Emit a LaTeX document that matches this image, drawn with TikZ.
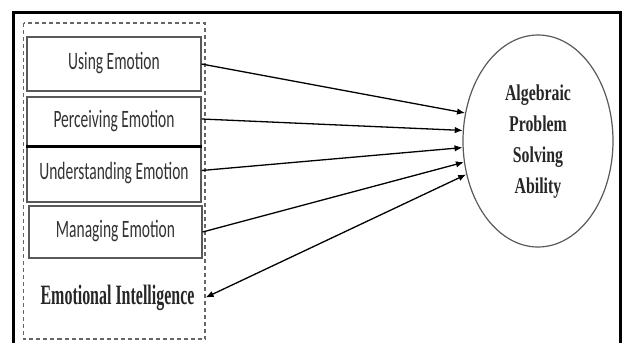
\documentclass[tikz,border=0pt]{standalone}
\usepackage{fontspec}
\setmainfont{Liberation Serif}
\newfontfamily\calib{Carlito}
\usetikzlibrary{arrows.meta,shapes.geometric}
\tikzset{
  emobox/.style={draw=black!65, line width=1.1pt, rectangle, inner sep=0pt,
    minimum width=174pt, text height=14pt, text depth=4pt,
    font=\calib\fontsize{25}{28}\selectfont, text=black!80},
  conn/.style={line width=1.3pt, -{Latex[length=8pt,width=6.5pt]}},
  dconn/.style={line width=1.3pt, {Latex[length=8pt,width=6.5pt]}-{Latex[length=8pt,width=6.5pt]}},
}
\newcommand{\sqz}[1]{\scalebox{0.62}[1]{#1}}
\begin{document}
\begin{tikzpicture}[x=1pt,y=-1pt]
\useasboundingbox (0,0) rectangle (622,343);
% outer frame (open at bottom)
\draw[line width=3pt] (13.5,343) -- (13.5,12) -- (620.5,12) -- (620.5,343);
% dashed group frame
\draw[black!60, line width=1.3pt, dash pattern=on 4pt off 3pt] (23.5,23) rectangle (205,339);
% boxes
\node[emobox, minimum height=54pt] (use) at (114,64) {\sqz{Using Emotion}};
\node[emobox, minimum height=50pt] (per) at (114,122) {\sqz{Perceiving Emotion}};
\node[emobox, minimum height=55pt] (und) at (114,174.5) {\sqz{Understanding Emotion}};
\node[emobox, minimum height=52pt, minimum width=173pt] (man) at (115.5,232) {\sqz{Managing Emotion}};
\draw[line width=2.4pt] (und.north west) -- (und.north east);
% Emotional Intelligence label
\node[inner ysep=0pt, inner xsep=11pt, font=\bfseries\fontsize{28}{30}\selectfont, text=black!85]
  (ei) at (117.5,297.5) {\scalebox{0.57}[1]{Emotional Intelligence}};
% outcome ellipse
\node[ellipse, draw=black!65, line width=1.2pt, minimum width=150pt, minimum height=212pt, inner sep=0pt,
  font=\bfseries\fontsize{22.6}{31}\selectfont, text=black!85]
  (apsa) at (538,141) {\scalebox{0.7}[1]{\begin{tabular}{@{}c@{}}Algebraic\\Problem\\Solving\\Ability\end{tabular}}};
% connectors
\draw[conn] (use.east) -- (apsa.159.7);
\draw[conn] ([yshift=3pt]per.east) -- (apsa.172.4);
\draw[conn] ([yshift=4pt]und.east) -- (apsa.185.3);
\draw[conn] (man.east) -- (apsa.196.7);
\draw[dconn] (apsa.205.6) -- (ei.east);
\end{tikzpicture}
\end{document}
